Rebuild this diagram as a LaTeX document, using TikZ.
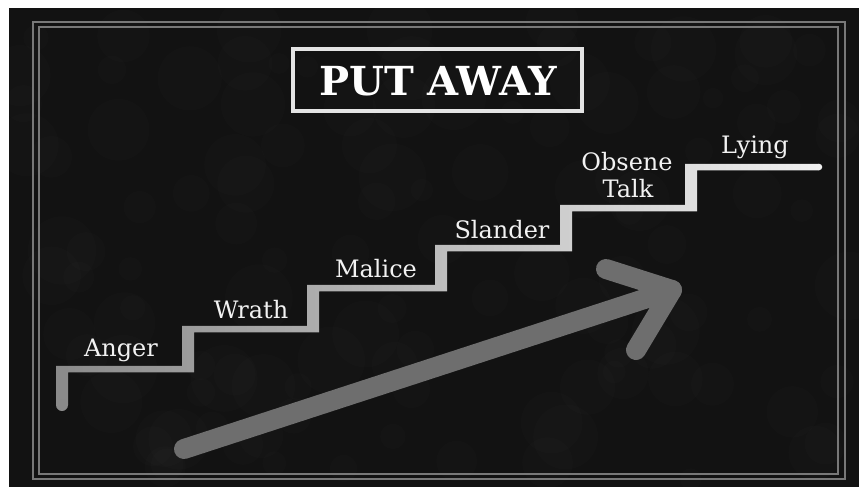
\documentclass[tikz,border=0pt]{standalone}
\usepackage{fontspec}
\setmainfont{DejaVu Serif}
\definecolor{bgc}{RGB}{18,18,18}
\definecolor{framec}{RGB}{120,120,120}
\definecolor{titlec}{RGB}{228,228,228}
\definecolor{lblc}{RGB}{242,242,242}
\definecolor{stepl}{RGB}{138,138,138}
\definecolor{stepr}{RGB}{240,240,240}
\definecolor{arrowc}{RGB}{110,110,110}
\tikzset{
  lbl/.style={text=lblc, font=\fontsize{24}{27}\selectfont, inner sep=0pt, anchor=base},
  framebox/.style={draw=framec, line width=1.6pt},
  bigarrow/.style={draw=arrowc, line width=20pt, line cap=round, line join=round}
}
\begin{document}
\begin{tikzpicture}[x=1pt,y=-1pt]
\useasboundingbox (0,0) rectangle (859,487);
\fill[white] (0,0) rectangle (859,487);
\fill[bgc] (9,8) rectangle (859,487);
% subtle texture
\pgfmathsetseed{7}
\foreach \i in {1,...,120}{
  \pgfmathsetmacro{\px}{20+rnd*830}
  \pgfmathsetmacro{\py}{15+rnd*465}
  \pgfmathsetmacro{\pr}{10+rnd*25}
  \fill[white, opacity=0.012] (\px,\py) circle[radius=\pr];
}
% double frame
\draw[framebox] (33,22) rectangle (845,479);
\draw[framebox] (39,27) rectangle (838,474);
% title
\draw[titlec, line width=3.5pt] (293,49) rectangle (582,111);
\node[text=white, inner sep=0pt, anchor=base, font=\bfseries\fontsize{40}{44}\selectfont] (title) at (438,95) {PUT AWAY};
% staircase
\shade[left color=stepl, right color=stepr]
  (56,405) -- (56,365.75) -- (182,365.75) -- (182,325.75) -- (307,325.75)
  -- (307,284.75) -- (435,284.75) -- (435,244.75) -- (560,244.75)
  -- (560,204.75) -- (685,204.75) -- (685,163.75) -- (819,163.75)
  -- (819,170.25) -- (697,170.25) -- (697,211.25) -- (572,211.25)
  -- (572,251.25) -- (447,251.25) -- (447,291.25) -- (319,291.25)
  -- (319,332.25) -- (194,332.25) -- (194,372.25) -- (68,372.25)
  -- (68,405) -- cycle;
\fill[stepl] (62,405) circle[radius=6];
\fill[stepr] (819,167) circle[radius=3.25];
% labels
\node[lbl] (anger) at (121,356) {Anger};
\node[lbl] (wrath) at (251,318) {Wrath};
\node[lbl] (malice) at (376,277) {Malice};
\node[lbl] (slander) at (502,238) {Slander};
\node[lbl] (obsene) at (627,170) {Obsene};
\node[lbl] (talk) at (628,197) {Talk};
\node[lbl] (lying) at (755,153) {Lying};
% arrow
\coordinate (tail) at (184,449);
\coordinate (tip) at (672,290);
\coordinate (ub) at (606,269);
\coordinate (lb) at (636,350);
\draw[bigarrow] (tail) -- (tip);
\draw[bigarrow] (ub) -- (tip) -- (lb);
\end{tikzpicture}
\end{document}
